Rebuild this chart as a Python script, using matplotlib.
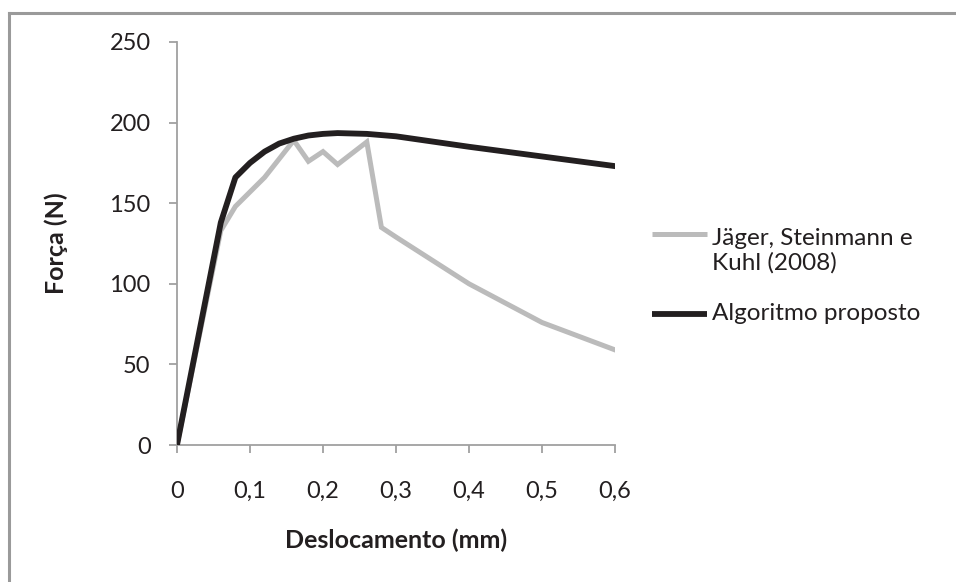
import matplotlib
matplotlib.use("Agg")
import matplotlib.pyplot as plt
from matplotlib.lines import Line2D
from matplotlib.ticker import FuncFormatter

plt.rcParams['font.family'] = ['Lato', 'DejaVu Sans']

# Deslocamento (mm) x Força (N)
x_jager = [0, 0.06, 0.08, 0.12, 0.16, 0.18, 0.20, 0.22, 0.26, 0.28, 0.30, 0.40, 0.50, 0.60]
y_jager = [0, 133, 148, 166, 189, 176, 182, 174, 188, 135, 129, 100, 76, 59]

x_alg = [0, 0.06, 0.08, 0.10, 0.12, 0.14, 0.16, 0.18, 0.20, 0.22, 0.26, 0.30, 0.40, 0.50, 0.60]
y_alg = [0, 138, 166, 175, 182, 187, 190, 192, 193, 193.5, 193, 191.5, 185, 179, 173]

x_ticks = [0, 0.1, 0.2, 0.3, 0.4, 0.5, 0.6]
y_ticks = [0, 50, 100, 150, 200, 250]

label_jager = "Jäger, Steinmann e\nKuhl (2008)"
label_alg = "Algoritmo proposto"
x_label = "Deslocamento (mm)"
y_label = "Força (N)"

W, H = 956, 582
fig = plt.figure(figsize=(W / 100, H / 100), dpi=100)


def fx(px):
    return px / W


def fy(py):
    return 1 - py / H


ax_l, ax_r, ax_t, ax_b = 177, 615, 42, 445
ax = fig.add_axes([fx(ax_l), fy(ax_b), (ax_r - ax_l) / W, (ax_b - ax_t) / H])

text_color = '#231F20'
gray_line = '#BBBBBB'
spine_color = '#A0A0A0'
fs_tick = 17
fs_label = 18
fs_leg = 17.5
lw_gray, lw_black = 3.6, 4.2

ax.plot(x_jager, y_jager, color=gray_line, lw=lw_gray, solid_joinstyle='miter', zorder=2)
ax.plot(x_alg, y_alg, color=text_color, lw=lw_black, solid_joinstyle='round', zorder=3)

ax.set_xlim(0, 0.6)
ax.set_ylim(0, 250)
ax.set_xticks(x_ticks)
ax.set_yticks(y_ticks)
ax.xaxis.set_major_formatter(FuncFormatter(lambda v, p: ('%g' % round(v, 2)).replace('.', ',')))
ax.yaxis.set_major_formatter(FuncFormatter(lambda v, p: '%d' % v))

for s in ['top', 'right']:
    ax.spines[s].set_visible(False)
for s in ['left', 'bottom']:
    ax.spines[s].set_color(spine_color)
    ax.spines[s].set_linewidth(1.3)
ax.tick_params(axis='both', direction='out', length=6, width=1.3, color=spine_color,
               labelsize=fs_tick, labelcolor=text_color)
ax.tick_params(axis='y', pad=13)
ax.tick_params(axis='x', pad=20)

ax.set_xlabel(x_label, fontsize=fs_label, fontweight='bold', color=text_color, labelpad=19)
ax.set_ylabel(y_label, fontsize=fs_label, fontweight='bold', color=text_color, labelpad=30)

# legend entries: handle line + label text
leg_x0, leg_x1, leg_tx = 652, 707, 712
fig.add_artist(Line2D([fx(leg_x0), fx(leg_x1)], [fy(234), fy(234)], transform=fig.transFigure,
                      color=gray_line, lw=lw_gray, solid_capstyle='butt'))
fig.text(fx(leg_tx), fy(251), label_jager, fontsize=fs_leg, color=text_color,
         ha='left', va='center', linespacing=1.15)
fig.add_artist(Line2D([fx(leg_x0), fx(leg_x1)], [fy(314), fy(314)], transform=fig.transFigure,
                      color=text_color, lw=lw_black, solid_capstyle='butt'))
fig.text(fx(leg_tx), fy(313), label_alg, fontsize=fs_leg, color=text_color,
         ha='left', va='center')

# chart frame (top and left edges)
fig.add_artist(Line2D([fx(9), fx(9)], [0, fy(13)], transform=fig.transFigure,
                      color='#9A9A9A', lw=2.2))
fig.add_artist(Line2D([fx(9), 1], [fy(13), fy(13)], transform=fig.transFigure,
                      color='#9A9A9A', lw=2.2))

fig.savefig('out.png', dpi=100, facecolor='white')
